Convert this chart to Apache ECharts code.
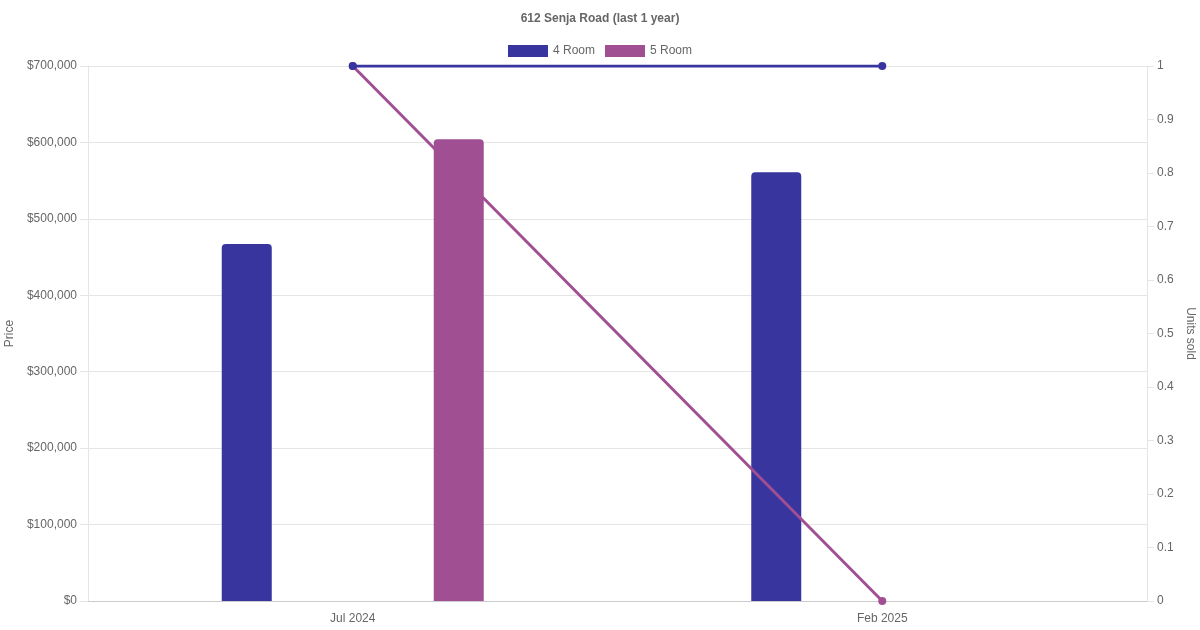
<!DOCTYPE html>
<html>
<head>
<meta charset="utf-8">
<script src="https://cdn.jsdelivr.net/npm/echarts@6/dist/echarts.min.js"></script>
<style>
  html, body { margin: 0; padding: 0; background: #fff; }
  #chart { width: 1200px; height: 630px; }
</style>
</head>
<body>
<div id="chart"></div>
<script>
var months = ['Jul 2024', 'Feb 2025'];
var price4Room = [467000, 561000];
var price5Room = [604000, 0];
var units4Room = [1, 1];
var units5Room = [1, 0];

var col4 = '#38359f';
var col5 = '#a05092';
var textCol = '#666';
var gridCol = '#e5e5e5';

var myChart = echarts.init(document.getElementById('chart'));

var option = {
    backgroundColor: '#fff',
    animation: false,
    textStyle: { fontFamily: 'Liberation Sans, Arial, sans-serif' },
    title: {
        text: '612 Senja Road (last 1 year)',
        left: 'center',
        top: 8,
        textStyle: { color: textCol, fontSize: 12, fontWeight: 'bold' }
    },
    legend: {
        top: 40,
        left: 'center',
        itemWidth: 40,
        itemHeight: 12,
        itemGap: 10,
        icon: 'rect',
        data: ['4 Room', '5 Room'],
        textStyle: { color: textCol, fontSize: 12 }
    },
    grid: { left: 88, right: 53, top: 66, bottom: 29, outerBoundsMode: 'none' },
    xAxis: [{
        type: 'category',
        data: months,
        axisLine: { lineStyle: { color: '#ccc' } },
        axisTick: { show: false },
        axisLabel: { color: textCol, fontSize: 12, margin: 12 },
        splitLine: { show: false }
    }],
    yAxis: [{
        type: 'value',
        min: 0,
        max: 700000,
        interval: 100000,
        name: 'Price',
        nameLocation: 'middle',
        nameGap: 65,
        nameRotate: 90,
        nameTextStyle: { color: textCol, fontSize: 12 },
        axisLine: { show: true, lineStyle: { color: gridCol } },
        axisTick: { show: true, length: 8, lineStyle: { color: gridCol } },
        axisLabel: {
            color: textCol, fontSize: 12, margin: 11, padding: [2, 0, 0, 0],
            formatter: function (v) { return '$' + v.toLocaleString('en-US'); }
        },
        splitLine: { lineStyle: { color: gridCol } }
    }, {
        type: 'value',
        position: 'right',
        min: 0,
        max: 1,
        interval: 0.1,
        name: 'Units sold',
        nameLocation: 'middle',
        nameGap: 32,
        nameRotate: -90,
        nameTextStyle: { color: textCol, fontSize: 12 },
        axisLine: { show: true, lineStyle: { color: gridCol } },
        axisTick: { show: true, length: 7, lineStyle: { color: gridCol } },
        axisLabel: {
            color: textCol, fontSize: 12, margin: 10, padding: [2, 0, 0, 0],
            formatter: function (v) { return +v.toFixed(1); }
        },
        splitLine: { show: false }
    }],
    series: [{
        name: '4 Room',
        type: 'bar',
        data: price4Room,
        barWidth: 50,
        barGap: '324%',
        itemStyle: { color: col4, borderRadius: [4, 4, 0, 0] }
    }, {
        name: '5 Room',
        type: 'bar',
        data: price5Room,
        barWidth: 50,
        barGap: '324%',
        itemStyle: { color: col5, borderRadius: [4, 4, 0, 0] }
    }, {
        name: '4 Room',
        type: 'line',
        yAxisIndex: 1,
        data: units4Room,
        symbol: 'circle',
        symbolSize: 8,
        lineStyle: { color: col4, width: 3 },
        itemStyle: { color: col4 },
        z: 5
    }, {
        name: '5 Room',
        type: 'line',
        yAxisIndex: 1,
        data: units5Room,
        symbol: 'circle',
        symbolSize: 8,
        lineStyle: { color: col5, width: 3 },
        itemStyle: { color: col5 },
        z: 4
    }]
};

myChart.setOption(option);
</script>
</body>
</html>
